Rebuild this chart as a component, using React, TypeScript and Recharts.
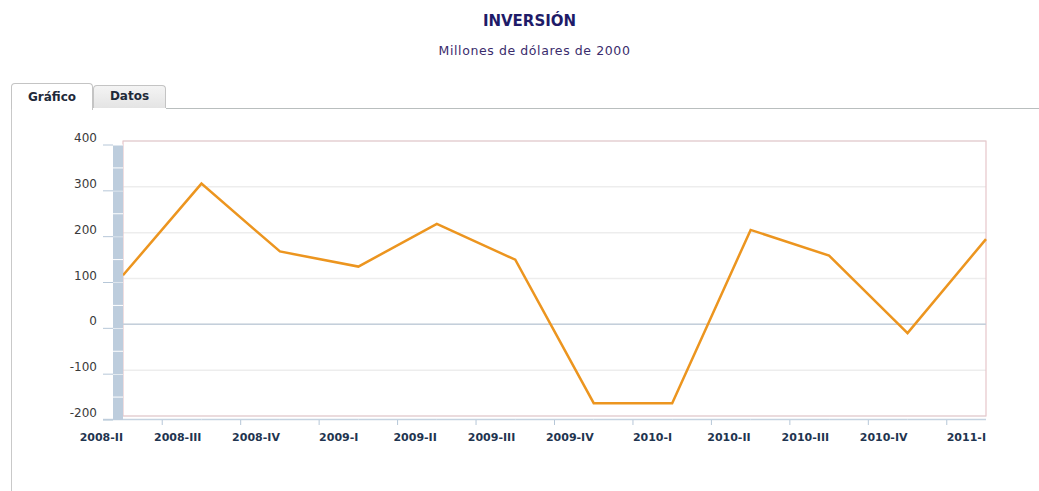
import React from 'react';
import {
  LineChart,
  Line,
  XAxis,
  YAxis,
  CartesianGrid,
  ReferenceLine,
  ReferenceArea,
} from 'recharts';

// Quarterly investment, millions of 2000 dollars
const quarters = [
  '2008-II', '2008-III', '2008-IV', '2009-I', '2009-II', '2009-III',
  '2009-IV', '2010-I', '2010-II', '2010-III', '2010-IV', '2011-I',
];
const inversion = [107, 307, 159, 126, 219, 141, -172, -172, 206, 150, -19, 186];
const yTicks = [-200, -100, 0, 100, 200, 300, 400];

const data = quarters.map((q, i) => ({ q, value: inversion[i] }));

const W = 1039;
const H = 491;
const PLOT_LEFT = 123;
const PLOT_RIGHT = 986;
const PLOT_TOP = 141;
const PLOT_BOTTOM = 416;
const STEP_X = (PLOT_RIGHT - PLOT_LEFT) / (quarters.length - 1);
const STEP_Y = (PLOT_BOTTOM - PLOT_TOP) / (yTicks.length - 1);
const FONT = '"DejaVu Sans", Verdana, sans-serif';

function YTick(props: any) {
  const { y, payload } = props;
  const ty = y + 4;
  const isTop = payload.value === yTicks[yTicks.length - 1];
  return (
    <g>
      {!isTop && (
        <g>
          <rect x={113} y={ty - STEP_Y} width={10} height={STEP_Y} fill="#bdcddd" />
          <line x1={113} x2={123} y1={ty - STEP_Y / 2} y2={ty - STEP_Y / 2} stroke="#fff" strokeWidth={1} />
          <line x1={113} x2={123} y1={ty - STEP_Y} y2={ty - STEP_Y} stroke="#fff" strokeWidth={1} />
        </g>
      )}
      <line x1={103} x2={113} y1={ty} y2={ty} stroke="#b6c7d8" strokeWidth={1} />
      <text
        x={97}
        y={y - 3}
        textAnchor="end"
        dominantBaseline="central"
        fontFamily={FONT}
        fontSize={12}
        fill="#3a3a3a"
      >
        {payload.value}
      </text>
    </g>
  );
}

function XTick(props: any) {
  const { x, payload, index } = props;
  const last = index === quarters.length - 1;
  return (
    <g>
      {!last && (
        <line
          x1={index === 0 ? 103 : x}
          x2={x + STEP_X}
          y1={419.5}
          y2={419.5}
          stroke="#c5d3e0"
          strokeWidth={1.5}
        />
      )}
      {!last && (
        <line x1={x + STEP_X / 2} x2={x + STEP_X / 2} y1={420} y2={425} stroke="#b6c7d8" />
      )}
      <text
        x={x}
        y={441}
        textAnchor="end"
        fontFamily={FONT}
        fontSize={11}
        fontWeight="bold"
        fill="#1f3550"
      >
        {payload.value}
      </text>
    </g>
  );
}

export default function App() {
  return (
    <div
      style={{
        position: 'absolute',
        left: 0,
        top: 0,
        width: W,
        height: H,
        background: '#fff',
        fontFamily: FONT,
        overflow: 'hidden',
      }}
    >
      <div
        style={{
          position: 'absolute',
          left: 0,
          width: 1059,
          top: 12,
          textAlign: 'center',
          fontWeight: 'bold',
          fontSize: 15,
          color: '#1e1b68',
        }}
      >
        INVERSIÓN
      </div>
      <div
        style={{
          position: 'absolute',
          left: 0,
          width: 1069,
          top: 43,
          textAlign: 'center',
          fontSize: 12.5,
          letterSpacing: 0.6,
          color: '#3a2c6c',
        }}
      >
        Millones de dólares de 2000
      </div>

      {/* tabs */}
      <div
        style={{
          position: 'absolute',
          left: 93,
          top: 85,
          width: 73,
          height: 23,
          boxSizing: 'border-box',
          border: '1px solid #c4c4c4',
          borderBottom: 'none',
          borderRadius: '4px 4px 0 0',
          background: 'linear-gradient(#f4f4f4, #e4e4e4)',
          fontSize: 12,
          fontWeight: 'bold',
          color: '#1f2a3a',
          textAlign: 'center',
          lineHeight: '21px',
        }}
      >
        Datos
      </div>
      <div
        style={{
          position: 'absolute',
          left: 166,
          top: 108,
          width: W - 166,
          height: 0,
          borderTop: '1px solid #b9bebe',
        }}
      />
      <div
        style={{
          position: 'absolute',
          left: 11,
          top: 83,
          width: 82,
          height: 27,
          boxSizing: 'border-box',
          border: '1px solid #c4c4c4',
          borderBottom: 'none',
          borderRadius: '4px 4px 0 0',
          background: '#fff',
          fontSize: 12,
          fontWeight: 'bold',
          color: '#1f2a3a',
          textAlign: 'center',
          lineHeight: '26px',
        }}
      >
        Gráfico
      </div>
      <div
        style={{
          position: 'absolute',
          left: 11,
          top: 109,
          width: 0,
          height: H - 109,
          borderLeft: '1px solid #c9c9c9',
        }}
      />

      <div style={{ position: 'absolute', left: 0, top: 0 }}>
        <LineChart
          width={W}
          height={H}
          data={data}
          margin={{ top: PLOT_TOP, right: W - PLOT_RIGHT, left: PLOT_LEFT - 60, bottom: H - PLOT_BOTTOM - 30 }}
        >
          <CartesianGrid vertical={false} stroke="#ededed" strokeWidth={1.5} />
          <ReferenceArea y1={-200} y2={400} fill="none" stroke="#e6c6ca" strokeWidth={1.2} />
          <ReferenceLine y={0} stroke="#c4cfdb" strokeWidth={1.5} />
          <XAxis
            dataKey="q"
            height={30}
            interval={0}
            axisLine={false}
            tickLine={false}
            tick={(p: any) => <XTick {...p} />}
          />
          <YAxis
            width={60}
            domain={[-200, 400]}
            ticks={yTicks}
            axisLine={false}
            tickLine={false}
            tick={(p: any) => <YTick {...p} />}
          />
          <Line
            type="linear"
            dataKey="value"
            stroke="#ec951f"
            strokeWidth={2.5}
            dot={false}
            activeDot={false}
            isAnimationActive={false}
          />
        </LineChart>
      </div>
    </div>
  );
}
